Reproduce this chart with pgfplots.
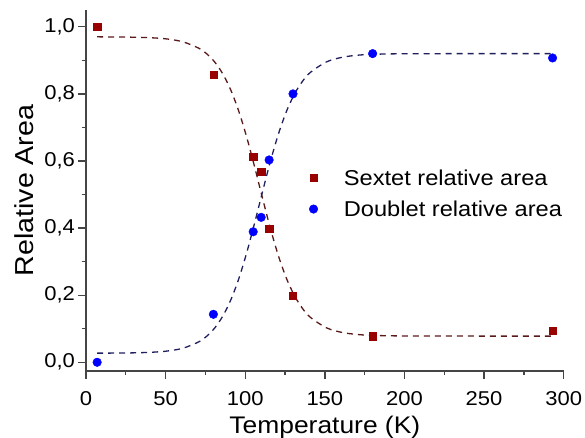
\documentclass[border=0pt]{standalone}
\usepackage{fontspec}
\setmainfont[FakeStretch=1.1]{Liberation Sans}
\usepackage{pgfplots}
\pgfplotsset{compat=1.18}
\definecolor{sq}{HTML}{990000}
\definecolor{ci}{HTML}{0000FF}
\definecolor{sqline}{HTML}{5A1A1A}
\definecolor{ciline}{HTML}{20205E}
\definecolor{axc}{HTML}{454545}
\begin{document}
\begin{tikzpicture}
\path[use as bounding box] (-86pt,-67pt) rectangle (499pt,371pt);
\begin{axis}[
  scale only axis, width=477.7pt, height=361pt,
  at={(0pt,0pt)}, anchor=south west,
  xmin=0, xmax=300, ymin=-0.026, ymax=1.05,
  axis x line*=bottom, axis y line*=left,
  axis line style={axc, line width=1.3pt, -},
  xtick={0,50,100,150,200,250,300},
  minor xtick={25,75,125,175,225,275},
  ytick={0,0.2,0.4,0.6,0.8,1.0},
  minor ytick={0.1,0.3,0.5,0.7,0.9},
  tick align=outside, major tick length=7.5pt, minor tick length=4pt,
  every tick/.style={axc, line width=1.3pt},
  /pgf/number format/assume math mode=true,
  tick label style={font=\fontsize{20}{20}\selectfont, black},
  xticklabel shift=10pt,
  xticklabel style={/pgf/number format/.cd, fixed, precision=0},
  yticklabel style={/pgf/number format/.cd, fixed, fixed zerofill, precision=1, use comma},
  xlabel={Temperature (K)}, ylabel={Relative Area},
  xlabel style={font=\fontsize{24}{24}\selectfont, at={(axis description cs:0.5,-0.1726)}, anchor=base},
  ylabel style={font=\fontsize{26}{26}\selectfont, at={(axis description cs:-0.1106,0.5)}, anchor=base},
  legend style={at={(rel axis cs:0.4606,0.57)}, anchor=north west, draw=none, fill=none,
    font=\fontsize{21.5}{21.5}\selectfont, column sep=24pt, row sep=10pt},
  legend cell align=left,
  clip=false,
]
\addplot[sqline, line width=1.3pt, dash pattern=on 6pt off 5pt, smooth, forget plot] coordinates {
(7,0.970) (21,0.9695) (31,0.9688) (41,0.9672) (51,0.9636) (61,0.9550) (71,0.9357) (76,0.9187)
(81,0.8939) (86,0.8588) (91,0.8106) (96,0.7475) (101,0.6697) (106,0.5804) (111,0.4864)
(116,0.3955) (121,0.3149) (126,0.2487) (131,0.1977) (136,0.1602) (141,0.1336) (151,0.1027)
(161,0.0887) (171,0.0826) (181,0.0800) (201,0.0784) (251,0.078) (293,0.078)};
\addplot[ciline, line width=1.3pt, dash pattern=on 6pt off 5pt, smooth, forget plot] coordinates {
(7,0.0272) (21,0.0275) (31,0.0282) (41,0.0298) (51,0.0335) (61,0.0420) (71,0.0613) (76,0.0784)
(81,0.1032) (86,0.1384) (91,0.1866) (96,0.2497) (101,0.3277) (106,0.4171) (111,0.5111)
(116,0.6022) (121,0.6828) (126,0.7491) (131,0.8002) (136,0.8378) (141,0.8644) (151,0.8953)
(161,0.9092) (171,0.9154) (181,0.9180) (201,0.9196) (251,0.92) (293,0.92)};
\addplot[only marks, mark=square*, mark size=3.6pt, sq, mark options={fill=sq, draw=sq}] coordinates {
(7,1.000) (80,0.858) (105,0.613) (110,0.567) (115,0.398) (130,0.199) (180,0.078) (293,0.093)};
\addlegendentry{Sextet relative area}
\addplot[only marks, mark=*, mark size=4.3pt, ci, mark options={fill=ci, draw=ci}] coordinates {
(7,0.000) (80,0.143) (105,0.389) (110,0.432) (115,0.603) (130,0.800) (180,0.920) (293,0.907)};
\addlegendentry{Doublet relative area}
\end{axis}
\end{tikzpicture}
\end{document}
